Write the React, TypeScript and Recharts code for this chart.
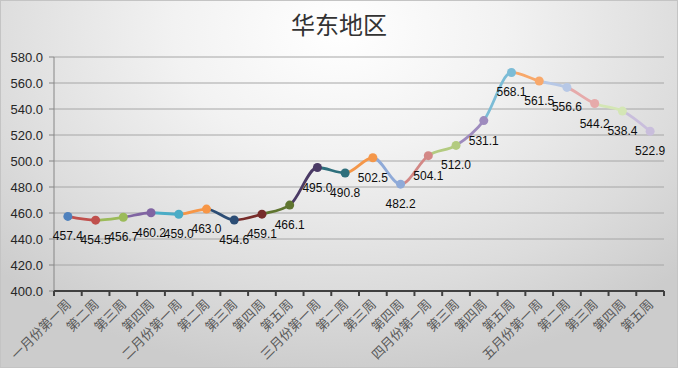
import { LineChart, Line, XAxis, YAxis, CartesianGrid, LabelList } from 'recharts';

const weeks = [
  '一月份第一周', '第二周', '第三周', '第四周',
  '二月份第一周', '第二周', '第三周', '第四周', '第五周',
  '三月份第一周', '第二周', '第三周', '第四周',
  '四月份第一周', '第三周', '第四周', '第五周',
  '五月份第一周', '第二周', '第三周', '第四周', '第五周',
];

const prices = [
  457.4, 454.5, 456.7, 460.2, 459.0, 463.0, 454.6, 459.1, 466.1,
  495.0, 490.8, 502.5, 482.2, 504.1, 512.0, 531.1, 568.1, 561.5,
  556.6, 544.2, 538.4, 522.9,
];

const yTicks = [400, 420, 440, 460, 480, 500, 520, 540, 560, 580];

// Excel "vary colors by point" palette
const COLORS = [
  '#4F81BD', '#C0504D', '#9BBB59', '#8064A2', '#4BACC6', '#F79646',
  '#2C4D75', '#772C2A', '#5F7530', '#4A3A65', '#2E6F7C', '#F4974A',
  '#8FAAD8', '#D38886', '#B3CB80', '#9E8BBE', '#7CBCD6', '#F8A86A',
  '#B7C8E6', '#E6AAAA', '#D4E6B5', '#C9BEDC',
];

const data = weeks.map((name, i) => ({ name, v: prices[i] }));

const W = 676;
const H = 366;
const X_H = 76;
const Y_W = 53;
const M = { top: 56, right: 13, bottom: 0, left: 0 };
const BAND = (W - M.left - M.right - Y_W) / weeks.length;
const FONT = "'Liberation Sans', Arial, sans-serif";

const XTick = (props: any) => {
  const { x, y, payload, index } = props;
  const last = index === weeks.length - 1;
  return (
    <g>
      <line x1={x - BAND / 2} y1={y} x2={x - BAND / 2} y2={y + 5} stroke="#404040" strokeWidth={2} />
      {last && <line x1={x + BAND / 2} y1={y} x2={x + BAND / 2} y2={y + 5} stroke="#404040" strokeWidth={2} />}
      <text
        x={x + 4}
        y={y + 14}
        transform={`rotate(-45, ${x + 4}, ${y + 14})`}
        textAnchor="end"
        fontSize={13}
        fill="#595959"
        fontFamily="'Noto Sans CJK SC', sans-serif"
      >
        {payload.value}
      </text>
    </g>
  );
};

const Dot = (props: any) => {
  const { cx, cy, index } = props;
  return <circle key={`d-${index}`} cx={cx} cy={cy} r={4.5} fill={COLORS[index % COLORS.length]} />;
};

const ValueLabel = (props: any) => {
  const { x, y, value } = props;
  return (
    <text x={x} y={y + 24} textAnchor="middle" fontSize={12} fill="#0d0d0d" fontFamily={FONT}>
      {Number(value).toFixed(1)}
    </text>
  );
};

export default function App() {
  const n = prices.length - 1;
  return (
    <div
      style={{
        position: 'absolute',
        left: 0,
        top: 0,
        width: W + 2,
        height: H + 2,
        boxSizing: 'border-box',
        border: '1px solid #c4c4c4',
        background: 'radial-gradient(ellipse 70% 95% at 50% 8%, #ffffff 0%, #f2f2f2 35%, #dcdcdc 75%, #cccccc 100%)',
        fontFamily: FONT,
      }}
    >
      <div
        style={{
          position: 'absolute',
          top: 8,
          width: '100%',
          textAlign: 'center',
          fontSize: 24,
          color: '#333333',
          fontFamily: "'Noto Sans CJK SC', sans-serif",
          lineHeight: '30px',
        }}
      >
        华东地区
      </div>
      <LineChart width={W} height={H} data={data} margin={M} style={{ position: 'absolute', left: 0, top: 0 }}>
        <defs>
          <linearGradient id="segGrad" x1="0" y1="0" x2="1" y2="0">
            {prices.slice(1).flatMap((_, k) => [
              <stop key={`a${k}`} offset={k / n} stopColor={COLORS[k + 1]} />,
              <stop key={`b${k}`} offset={(k + 1) / n} stopColor={COLORS[k + 1]} />,
            ])}
          </linearGradient>
        </defs>
        <CartesianGrid vertical={false} stroke="#a6a6a6" strokeWidth={1} />
        <YAxis
          width={Y_W}
          domain={[400, 580]}
          ticks={yTicks}
          interval={0}
          tickFormatter={(v: number) => v.toFixed(1)}
          tick={{ fontSize: 13, fill: '#262626', fontFamily: FONT }}
          axisLine={{ stroke: '#868686' }}
          tickLine={{ stroke: '#868686' }}
          tickSize={5}
          tickMargin={6}
        />
        <XAxis
          dataKey="name"
          interval={0}
          padding={{ left: BAND / 2, right: BAND / 2 }}
          height={X_H}
          tick={<XTick />}
          tickLine={false}
          tickSize={0}
          tickMargin={0}
          axisLine={{ stroke: '#404040', strokeWidth: 2 }}
        />
        <Line
          type="monotone"
          dataKey="v"
          stroke="url(#segGrad)"
          strokeWidth={2.8}
          dot={<Dot />}
          activeDot={false}
          isAnimationActive={false}
        >
          <LabelList dataKey="v" content={<ValueLabel />} />
        </Line>
      </LineChart>
    </div>
  );
}
